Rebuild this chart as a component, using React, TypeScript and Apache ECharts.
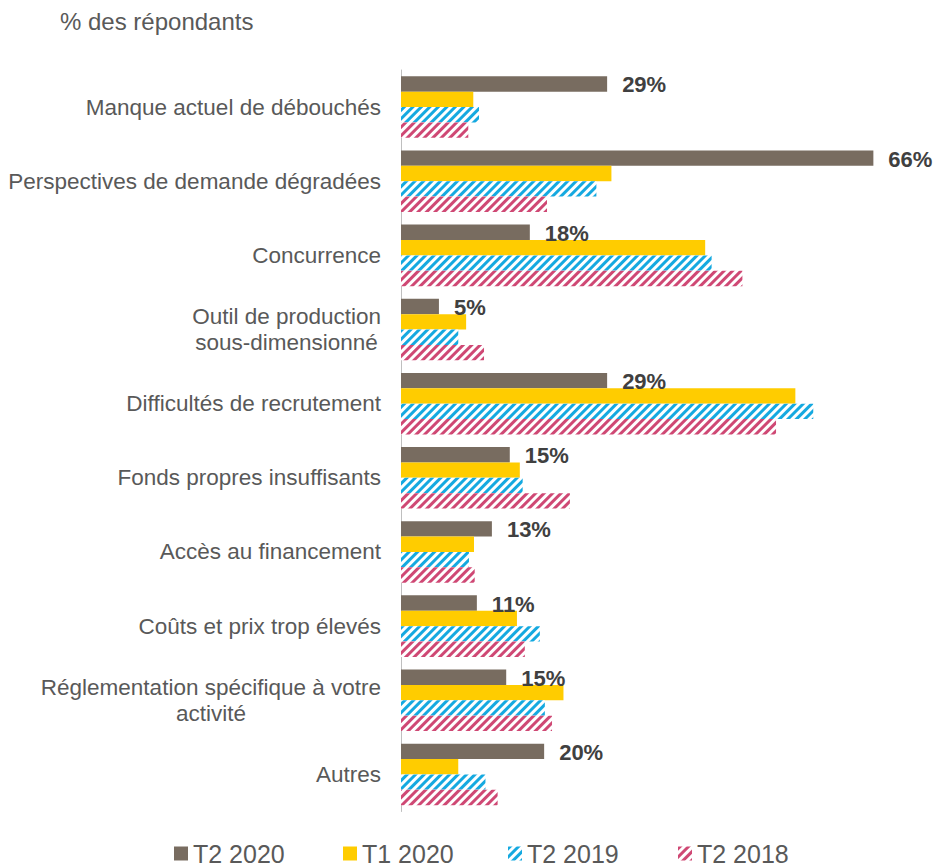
import React, { useEffect, useRef } from "react";
import * as echarts from "echarts";

const categories = [
  "Manque actuel de débouchés",
  "Perspectives de demande dégradées",
  "Concurrence",
  "Outil de production\nsous-dimensionné",
  "Difficultés de recrutement",
  "Fonds propres insuffisants",
  "Accès au financement",
  "Coûts et prix trop élevés",
  "Réglementation spécifique à votre\nactivité",
  "Autres",
];
const seriesNames = ["T2 2020", "T1 2020", "T2 2019", "T2 2018"];
const t2_2020 = [28.8, 66, 18.0, 5.3, 28.8, 15.2, 12.7, 10.6, 14.7, 20.0];
const t1_2020 = [10.1, 29.4, 42.5, 9.1, 55.1, 16.6, 10.2, 16.2, 22.7, 8.0];
const t2_2019 = [10.9, 27.3, 43.4, 8.0, 57.6, 17.0, 9.5, 19.4, 20.1, 11.8];
const t2_2018 = [9.4, 20.4, 47.7, 11.6, 52.4, 23.6, 10.3, 17.3, 21.1, 13.5];

const FONT = "'Liberation Sans', Arial, sans-serif";
const BROWN = "#786c60";
const YELLOW = "#ffcc00";
const BLUE = "#15a9e0";
const PINK = "#cf4874";
const legendLefts = [174, 343, 508, 678];

function hatch(color: string) {
  return {
    color: "#ffffff",
    decal: {
      symbol: "rect",
      symbolSize: 1,
      color: color,
      dashArrayX: [1, 0],
      dashArrayY: [3, 3],
      rotation: -Math.PI / 4,
    },
  };
}

export default function App() {
  const ref = useRef<HTMLDivElement>(null);
  useEffect(() => {
    if (!ref.current) return;
    const chart = echarts.init(ref.current, undefined, { renderer: "svg" });
    const common = {
      type: "bar",
      barGap: "0%",
      barCategoryGap: "17%",
    };
    chart.setOption({
      animation: false,
      textStyle: { fontFamily: FONT },
      title: {
        text: "% des répondants",
        left: 55,
        top: 4,
        textStyle: { fontFamily: FONT, fontSize: 24, fontWeight: "normal", color: "#595959" },
      },
      legend: seriesNames.map((n, i) => ({
        left: legendLefts[i],
        top: 841,
        padding: 0,
        itemGap: 0,
        itemWidth: 14,
        itemHeight: 14,
        icon: "rect",
        textStyle: { fontFamily: FONT, fontSize: 25, lineHeight: 22, color: "#595959" },
        data: [n],
      })),
      grid: { left: 401, top: 70, width: 501, height: 741.5, containLabel: false },
      xAxis: {
        type: "value",
        min: 0,
        max: 70,
        show: false,
        splitLine: { show: false },
      },
      yAxis: {
        type: "category",
        inverse: true,
        data: categories,
        axisLine: { show: true, lineStyle: { color: "#bfbfbf", width: 1 } },
        axisTick: { show: false },
        axisLabel: {
          margin: 20,
          fontFamily: FONT,
          fontSize: 22.5,
          color: "#595959",
          lineHeight: 26,
          formatter: (v: string) => v.split("\n").map((l) => `{c|${l}}`).join("\n"),
          rich: {
            c: { align: "center", fontFamily: FONT, fontSize: 22.5, color: "#595959", lineHeight: 26 },
          },
        },
      },
      series: [
        {
          ...common,
          name: seriesNames[0],
          data: t2_2020,
          itemStyle: { color: BROWN },
          label: {
            show: true,
            position: "right",
            distance: 15,
            offset: [0, 1],
            fontFamily: FONT,
            fontSize: 22,
            fontWeight: "bold",
            color: "#404040",
            formatter: (p: any) => Math.round(p.value) + "%",
          },
        },
        { ...common, name: seriesNames[1], data: t1_2020, itemStyle: { color: YELLOW } },
        { ...common, name: seriesNames[2], data: t2_2019, itemStyle: hatch(BLUE) },
        { ...common, name: seriesNames[3], data: t2_2018, itemStyle: hatch(PINK) },
      ],
    });
    return () => chart.dispose();
  }, []);
  return (
    <div
      ref={ref}
      style={{ position: "absolute", left: 0, top: 0, width: 936, height: 866 }}
    />
  );
}
